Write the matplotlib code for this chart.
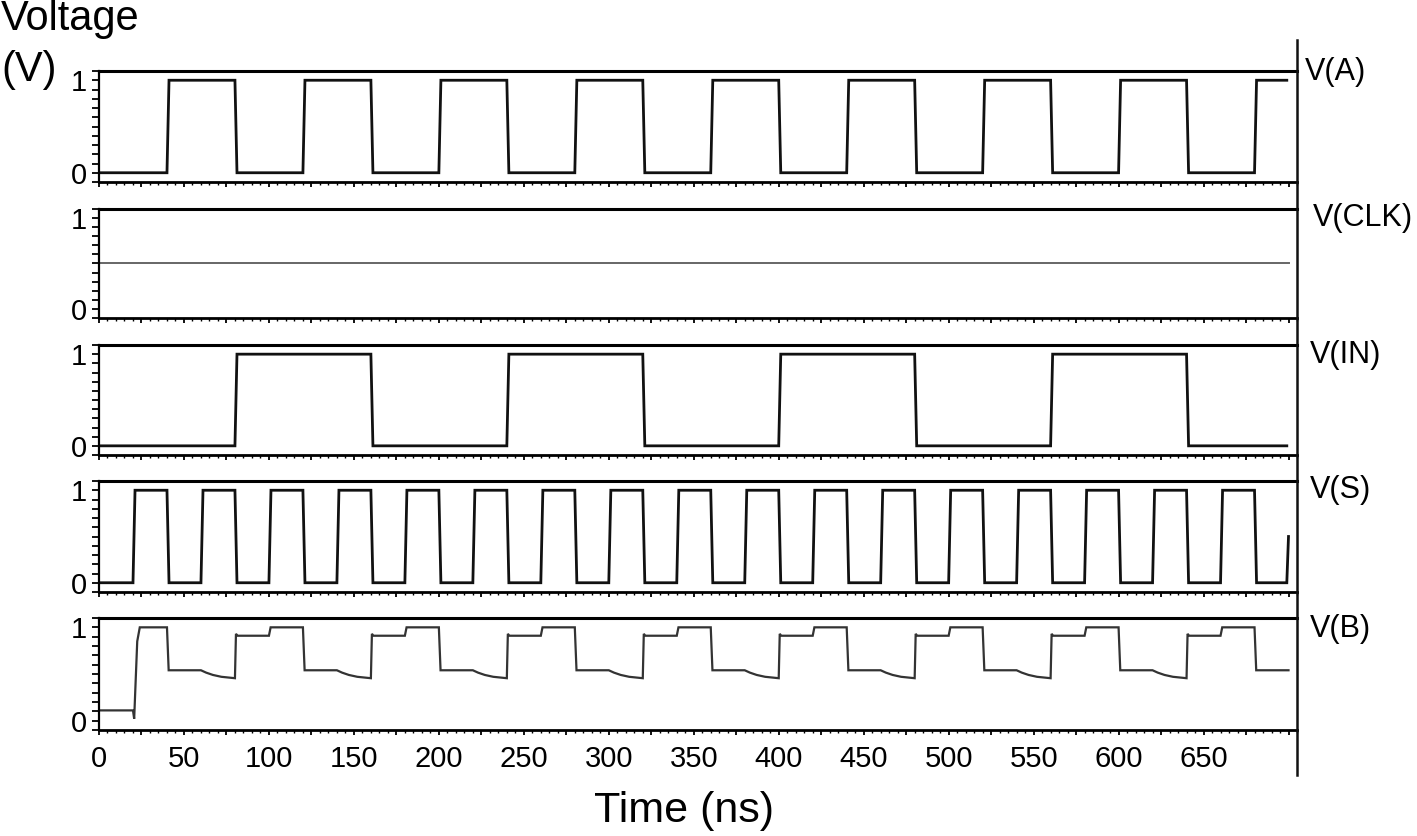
import matplotlib
matplotlib.use("Agg")
import matplotlib.pyplot as plt
from matplotlib.lines import Line2D
from matplotlib.ticker import MultipleLocator, FixedLocator
import numpy as np

plt.rcParams['font.family'] = ['Liberation Sans', 'DejaVu Sans']

# ---------------- data ----------------
signal_names = ["V(A)", "V(CLK)", "V(IN)", "V(S)", "V(B)"]

A_rise = [40, 120, 200, 280, 360, 440, 520, 600, 680]
A_fall = [80, 160, 240, 320, 400, 480, 560, 640]

CLK_level = 0.5

IN_rise = [80, 240, 400, 560]
IN_fall = [160, 320, 480, 640]

S_rise = [20, 60, 100, 140, 180, 220, 260, 300, 340, 380, 420, 460, 500,
          540, 580, 620, 660]
S_fall = [40, 80, 120, 160, 200, 240, 280, 320, 360, 400, 440, 480, 520,
          560, 600, 640, 680]
S_end_level = 0.5

B_t = [0, 20, 20.7, 21.3, 22.5, 24, 40, 41, 60, 63, 67, 72, 80,
       80.6, 81.5, 100, 101, 120, 121, 140, 143, 147, 152, 160,
       160.6, 161.5, 180, 181, 200, 201, 220, 223, 227, 232, 240,
       240.6, 241.5, 260, 261, 280, 281, 300, 303, 307, 312, 320,
       320.6, 321.5, 340, 341, 360, 361, 380, 383, 387, 392, 400,
       400.6, 401.5, 420, 421, 440, 441, 460, 463, 467, 472, 480,
       480.6, 481.5, 500, 501, 520, 521, 540, 543, 547, 552, 560,
       560.6, 561.5, 580, 581, 600, 601, 620, 623, 627, 632, 640,
       640.6, 641.5, 660, 661, 680, 681, 700]
B_v = [0.11, 0.11, 0.02, 0.30, 0.85, 1.0, 1.0, 0.54, 0.54, 0.515, 0.49, 0.47, 0.455,
       0.93, 0.91, 0.91, 1.0, 1.0, 0.54, 0.54, 0.515, 0.49, 0.47, 0.455,
       0.93, 0.91, 0.91, 1.0, 1.0, 0.54, 0.54, 0.515, 0.49, 0.47, 0.455,
       0.93, 0.91, 0.91, 1.0, 1.0, 0.54, 0.54, 0.515, 0.49, 0.47, 0.455,
       0.93, 0.91, 0.91, 1.0, 1.0, 0.54, 0.54, 0.515, 0.49, 0.47, 0.455,
       0.93, 0.91, 0.91, 1.0, 1.0, 0.54, 0.54, 0.515, 0.49, 0.47, 0.455,
       0.93, 0.91, 0.91, 1.0, 1.0, 0.54, 0.54, 0.515, 0.49, 0.47, 0.455,
       0.93, 0.91, 0.91, 1.0, 1.0, 0.54, 0.54, 0.515, 0.49, 0.47, 0.455,
       0.93, 0.91, 0.91, 1.0, 1.0, 0.54, 0.54]

x_tick_labels = [0, 50, 100, 150, 200, 250, 300, 350, 400, 450, 500, 550, 600, 650]
T_END = 700
RISE = 1.2


def square_wave(rises, falls, t_end, lo=0.0, hi=1.0, tr=RISE):
    events = sorted([(t, hi) for t in rises] + [(t, lo) for t in falls])
    t_pts, v_pts = [0.0], [lo]
    cur = lo
    for t, v in events:
        t_pts += [t, t + tr]
        v_pts += [cur, v]
        cur = v
    t_pts.append(t_end)
    v_pts.append(cur)
    return np.array(t_pts), np.array(v_pts)


tA, vA = square_wave(A_rise, A_fall, T_END - 1)
tIN, vIN = square_wave(IN_rise, IN_fall, T_END - 1)
tS, vS = square_wave(S_rise, S_fall, T_END - 1)
tS = np.append(tS, T_END)
vS = np.append(vS, S_end_level)

# ---------------- figure ----------------
W, H = 1417, 836
fig = plt.figure(figsize=(W / 100, H / 100), dpi=100)

panel_px = [(71, 182), (209, 318), (345, 455), (481, 592), (618, 730)]
left_px, right_px = 99, 1297

axes = []
for top, bot in panel_px:
    ax = fig.add_axes([left_px / W, 1 - bot / H, (right_px - left_px) / W, (bot - top) / H])
    axes.append(ax)

series = [
    (tA, vA, dict(color='#111111', lw=2.0)),
    (np.array([0, T_END]), np.array([CLK_level, CLK_level]), dict(color='#666666', lw=1.4)),
    (tIN, vIN, dict(color='#111111', lw=2.0)),
    (tS, vS, dict(color='#111111', lw=2.0)),
    (np.array(B_t), np.array(B_v), dict(color='#333333', lw=1.6)),
]

for i, (ax, (t, v, st)) in enumerate(zip(axes, series)):
    ax.plot(t, v, solid_joinstyle='miter', **st)
    ax.set_xlim(0, 705)
    ax.set_ylim(-0.1, 1.1)
    ax.spines['right'].set_visible(False)
    ax.spines['top'].set_linewidth(2.2)
    ax.spines['bottom'].set_linewidth(2.0)
    ax.spines['left'].set_linewidth(1.6)
    ax.yaxis.set_major_locator(FixedLocator([0, 1]))
    ax.yaxis.set_minor_locator(MultipleLocator(0.1))
    ax.set_yticklabels(["0", "1"])
    ax.xaxis.set_major_locator(MultipleLocator(25))
    ax.xaxis.set_minor_locator(MultipleLocator(5))
    ax.tick_params(axis='y', which='both', direction='out', length=5, width=1.3,
                   labelsize=21, pad=4)
    ax.tick_params(axis='x', which='major', direction='out', length=3.8, width=1.3)
    ax.tick_params(axis='x', which='minor', direction='out', length=2.0, width=1.0)
    if i == len(axes) - 1:
        ax.xaxis.set_major_locator(FixedLocator(list(np.arange(0, 701, 25))))
        labels = [str(int(x)) if int(x) in x_tick_labels else "" for x in np.arange(0, 701, 25)]
        ax.set_xticklabels(labels)
        ax.tick_params(axis='x', which='major', labelsize=21, pad=7)
    else:
        ax.tick_params(axis='x', which='both', labelbottom=False)

# right vertical line
fig.add_artist(Line2D([right_px / W, right_px / W], [1 - 775 / H, 1 - 40 / H],
                      color='#111111', lw=1.8))

# signal labels
label_pos = [(1305, 72), (1313, 218), (1310, 355), (1310, 490), (1310, 629)]
for name, (x, y) in zip(signal_names, label_pos):
    fig.text(x / W, 1 - y / H, name, fontsize=22, ha='left', va='center')

fig.text(1 / W, 1 - 19 / H, "Voltage", fontsize=30, ha='left', va='center')
fig.text(1 / W, 1 - 70 / H, "(V)", fontsize=30, ha='left', va='center')
fig.text(684 / W, 1 - 811 / H, "Time (ns)", fontsize=31, ha='center', va='center')

fig.savefig("out.png", dpi=100)
